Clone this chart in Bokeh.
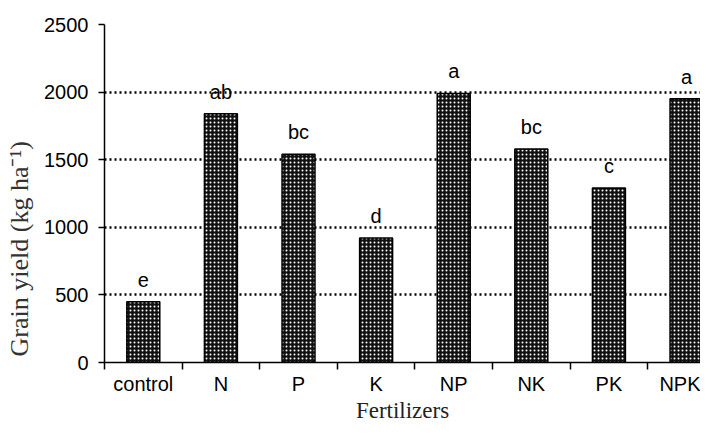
from bokeh.plotting import figure
from bokeh.models import FixedTicker, ColumnDataSource
from bokeh.core.properties import value
from bokeh.embed import file_html
from bokeh.resources import INLINE

categories = ["control", "N", "P", "K", "NP", "NK", "PK", "NPK"]
yields = [450, 1840, 1540, 920, 1990, 1580, 1290, 1950]
letters = ["e", "ab", "bc", "d", "a", "bc", "c", "a"]
y_ticks = [0, 500, 1000, 1500, 2000, 2500]

centers = [i + 0.5 for i in range(len(categories))]
src = ColumnDataSource(dict(x=centers, top=yields, lab=letters))

p = figure(width=700, height=425, output_backend="svg", toolbar_location=None,
           x_range=(0, 7.68), y_range=(0, 2500),
           min_border_left=104, min_border_right=0, min_border_top=24, min_border_bottom=63)
p.outline_line_color = None
p.background_fill_color = "white"

p.vbar(x="x", top="top", width=0.425, source=src, fill_color="#111111",
       line_color="black", line_width=1.5,
       hatch_pattern="dot", hatch_color="white", hatch_scale=4, hatch_weight=2)

p.text(x="x", y="top", text="lab", source=src, text_align="center", text_baseline="middle",
       y_offset=-22, text_font=value("Liberation Sans"), text_font_size="20px", text_color="black")

# x axis
xt = FixedTicker(ticks=centers, minor_ticks=list(range(len(categories))))
p.xaxis.ticker = xt
p.xaxis.major_label_overrides = {c: categories[i] for i, c in enumerate(centers)}
p.xaxis.major_tick_line_color = None
p.xaxis.major_tick_out = 0
p.xaxis.major_tick_in = 0
p.xaxis.minor_tick_out = 7
p.xaxis.minor_tick_in = 0
p.xaxis.minor_tick_line_color = "black"
p.xaxis.minor_tick_line_width = 1.5
p.xaxis.axis_line_color = "black"
p.xaxis.axis_line_width = 1.5
p.xaxis.major_label_standoff = 3
p.xaxis.major_label_text_font = "Liberation Sans"
p.xaxis.major_label_text_font_size = "20px"
p.xaxis.major_label_text_color = "black"
p.xaxis.axis_label = "Fertilizers"
p.xaxis.axis_label_text_font = "Liberation Serif"
p.xaxis.axis_label_text_font_style = "normal"
p.xaxis.axis_label_text_font_size = "23px"
p.xaxis.axis_label_standoff = 0
p.xaxis.axis_label_text_color = "#222222"

# y axis
p.yaxis.ticker = FixedTicker(ticks=y_ticks, minor_ticks=[])
p.yaxis.major_tick_out = 6
p.yaxis.major_tick_in = 0
p.yaxis.major_tick_line_color = "black"
p.yaxis.major_tick_line_width = 1.5
p.yaxis.axis_line_color = "black"
p.yaxis.axis_line_width = 1.5
p.yaxis.major_label_standoff = 10
p.yaxis.major_label_text_font = "Liberation Sans"
p.yaxis.major_label_text_font_size = "20px"
p.yaxis.major_label_text_color = "black"
p.yaxis.axis_label = "Grain yield (kg ha⁻¹)" + "\u00a0" * 17
p.yaxis.axis_label_text_font = "Liberation Serif"
p.yaxis.axis_label_text_font_style = "normal"
p.yaxis.axis_label_text_font_size = "26px"
p.yaxis.axis_label_standoff = 7
p.yaxis.axis_label_text_color = "#333333"

p.xgrid.grid_line_color = None
p.ygrid.ticker = FixedTicker(ticks=y_ticks[1:])
p.ygrid.grid_line_color = "black"
p.ygrid.grid_line_width = 2.5
p.ygrid.grid_line_dash = "2 3"

open("out.html", "w").write(file_html(p, INLINE))
